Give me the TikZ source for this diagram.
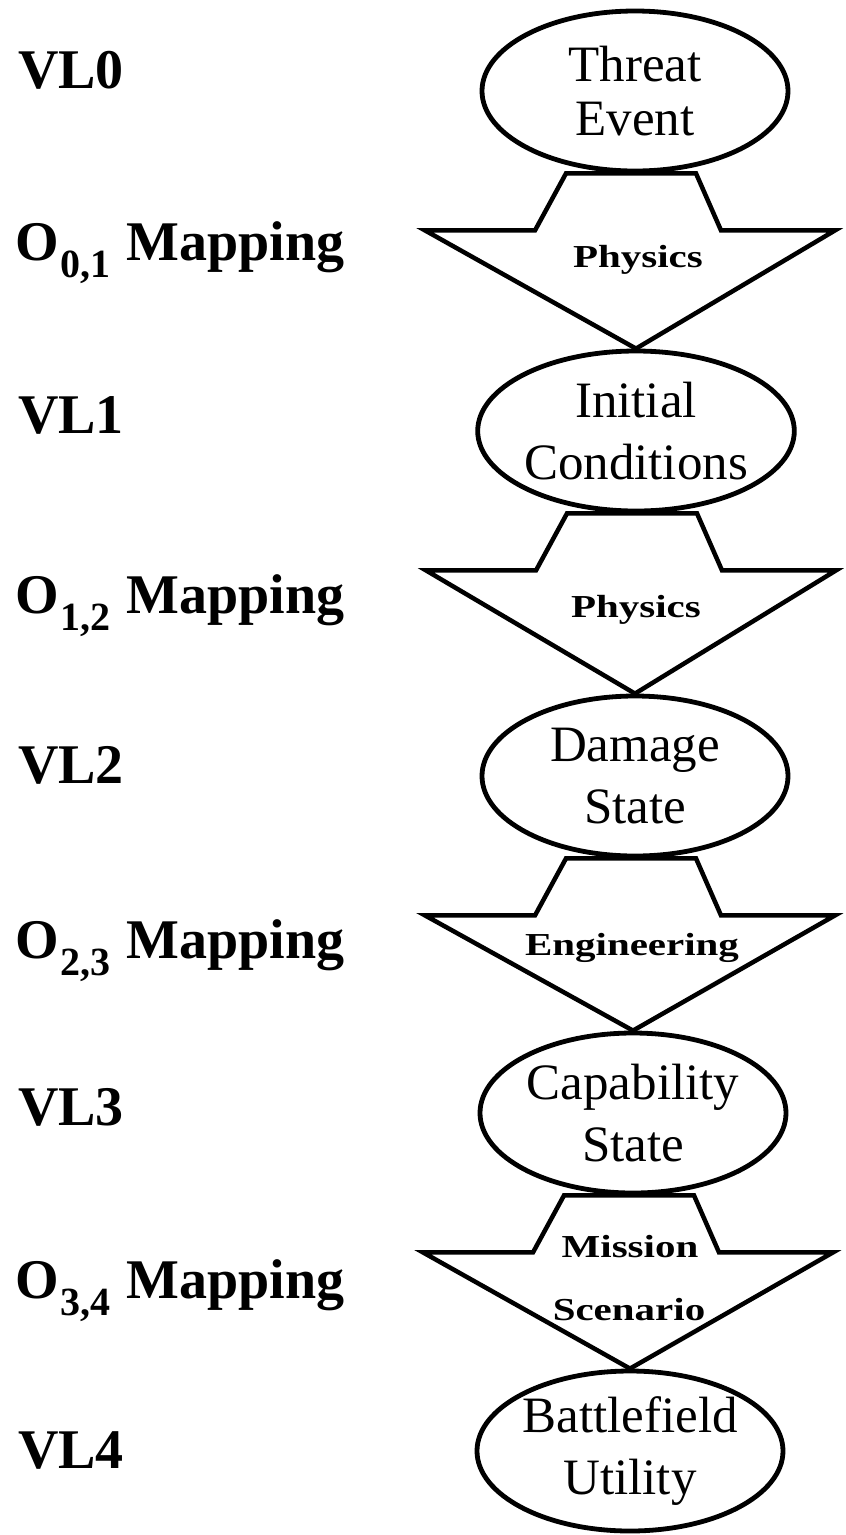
\documentclass[tikz,border=0pt]{standalone}
\usepackage{fontspec}
\setmainfont{Liberation Serif}
\usetikzlibrary{shapes.geometric,calc}
\newcommand{\opsub}[1]{\kern2pt\relax\raisebox{-17pt}{\fontsize{40}{40}\selectfont #1}\kern2pt\relax}
\begin{document}
\begin{tikzpicture}[x=1pt,y=-1pt,
  state/.style={ellipse,draw,line width=4.8pt,minimum width=306pt,minimum height=160pt,
    inner sep=0pt,align=center,font=\fontsize{51}{62}\selectfont},
  flow/.style={draw,line width=4.5pt,line join=miter},
  level/.style={anchor=base west,inner sep=0pt,font=\bfseries\fontsize{56}{60}\selectfont},
  oplabel/.style={anchor=base,inner sep=0pt,font=\bfseries\fontsize{32}{34}\selectfont}]
\useasboundingbox (0,0) rectangle (846,1535);

% value layers
\node[state,font=\fontsize{51}{54}\selectfont] (e0) at (635,91)   {Threat\\Event};
\node[state] (e1) at (636,431)  {Initial\\Conditions};
\node[state] (e2) at (635,776)  {Damage\\State};
\node[state] (e3) at (633,1113) {Capability\\State};
\node[state] (e4) at (630,1451) {Battlefield\\Utility};

% mapping arrows between consecutive layers
\foreach \a/\b in {e0/e1,e1/e2,e2/e3,e3/e4}{
  \draw[flow] ($(\a.south)+(-69,0)$) -- ($(\a.south)+(-100,57)$)
    -- ($(\a.south)+(-210,57)$) -- (\b.north)
    -- ($(\a.south)+(200,57)$) -- ($(\a.south)+(86,57)$)
    -- ($(\a.south)+(61,0)$) -- cycle;
}

% operator names inside the arrows
\node[oplabel] (p01) at (638,267)  {\scalebox{1.28}[1]{Physics}};
\node[oplabel] (p12) at (636,617)  {\scalebox{1.28}[1]{Physics}};
\node[oplabel] (p23) at (632,955)  {\scalebox{1.28}[1]{Engineering}};
\node[oplabel] (p34a) at (630,1257) {\scalebox{1.28}[1]{Mission}};
\node[oplabel] (p34b) at (629,1320) {\scalebox{1.28}[1]{Scenario}};

% level labels on the left
\node[level] (vl0) at (18,88)   {VL0};
\node[level] (o01) at (15,260)  {O\opsub{0,1} Mapping};
\node[level] (vl1) at (18,433)  {VL1};
\node[level] (o12) at (15,613)  {O\opsub{1,2} Mapping};
\node[level] (vl2) at (18,783)  {VL2};
\node[level] (o23) at (15,958)  {O\opsub{2,3} Mapping};
\node[level] (vl3) at (18,1125) {VL3};
\node[level] (o34) at (15,1298) {O\opsub{3,4} Mapping};
\node[level] (vl4) at (18,1468) {VL4};
\end{tikzpicture}
\end{document}
